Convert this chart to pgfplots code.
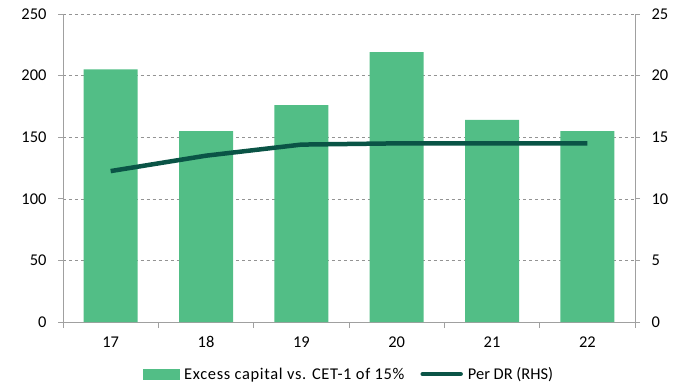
\documentclass[border=0pt]{standalone}
\usepackage{pgfplots}
\pgfplotsset{compat=1.18}
\usepackage{fontspec}
\setmainfont{Carlito}
\definecolor{barg}{RGB}{82,190,134}
\definecolor{lineg}{RGB}{10,84,70}
\definecolor{axg}{RGB}{160,160,160}
\begin{document}
\begin{tikzpicture}[x=1bp,y=1bp]
\pgfplotsset{
  every axis/.append style={
    scale only axis, width=572bp, height=308bp,
    at={(0,0)}, anchor=south west,
    xmin=-0.5, xmax=5.5,
    /pgf/number format/assume math mode=true,
    tick label style={font=\fontsize{16.5}{19}\selectfont},
    legend style={font=\fontsize{16.5}{19}\selectfont},
  }
}
\begin{axis}[
  ymin=0, ymax=250, ytick={0,50,...,250},
  axis y line*=left, axis x line*=bottom,
  axis line style={draw=axg, thick},
  xtick={0,...,5}, xticklabels={17,18,19,20,21,22},
  minor xtick={-0.5,0.5,...,5.5},
  x tick style={draw=none},
  minor x tick style={draw=axg, thick},
  minor tick length=6bp,
  y tick style={draw=axg, thick},
  major tick length=5bp,
  tick align=outside,
  ymajorgrids, grid style={dashed, draw=gray!85},
  yticklabel style={xshift=-8bp},
  xticklabel style={yshift=-6bp},
]
\addplot[ybar, bar width=54bp, fill=barg, draw=none] coordinates {
  (0,205) (1,155) (2,176) (3,219) (4,164) (5,155)
};
\end{axis}
\begin{axis}[
  ymin=0, ymax=25, ytick={0,5,...,25},
  axis y line*=right, axis x line=none,
  axis line style={draw=axg, thick},
  y tick style={draw=axg, thick},
  major tick length=5bp,
  tick align=outside,
  yticklabel style={xshift=8bp},
  legend style={at={(0.5,-0.14)}, anchor=north, draw=none, fill=none,
    legend columns=2, /tikz/every even column/.append style={column sep=14bp},
    inner sep=0pt, /tikz/every odd column/.append style={column sep=3bp}},
]
\addlegendimage{legend image code/.code={\fill[barg] (0bp,-5bp) rectangle (36bp,5bp);}}
\addlegendentry{\addfontfeature{LetterSpace=4}Excess capital vs. CET-1 of 15\%}
\addplot[color=lineg, line width=4.5bp, legend image code/.code={\draw[lineg, line width=4.5bp, line cap=round] (2bp,0bp) -- (40bp,0bp);}] coordinates {
  (0,12.25) (1,13.5) (2,14.4) (3,14.5) (4,14.5) (5,14.5)
};
\addlegendentry{Per DR (RHS)}
\end{axis}
\pgfresetboundingbox
\path[use as bounding box] (-63,-66) rectangle (623,322);
\end{tikzpicture}
\end{document}
